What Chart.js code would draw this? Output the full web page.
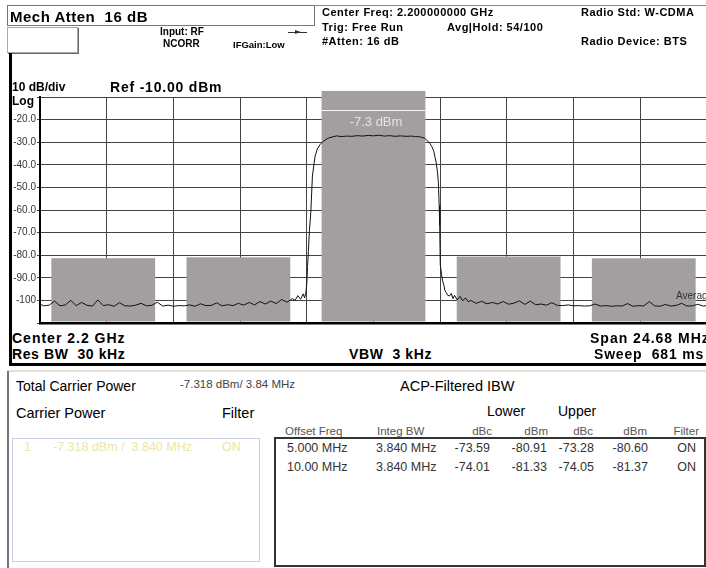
<!DOCTYPE html>
<html><head><meta charset="utf-8">
<script src="https://cdn.jsdelivr.net/npm/chart.js@4.4.1/dist/chart.umd.min.js"></script>
<style>
html,body{margin:0;padding:0;width:706px;height:568px;overflow:hidden;background:#fff;}
.t{position:absolute;white-space:pre;font-family:"Liberation Sans",Arial,sans-serif;color:#000;}
.bx{position:absolute;box-sizing:border-box;}
</style></head><body>
<div class="bx" style="left:7px;top:5px;width:699px;height:1px;background:#888"></div>
<div class="bx" style="left:7px;top:5px;width:308px;height:21px;border:1px solid #777"></div>
<div class="bx" style="left:7px;top:27px;width:71px;height:26px;border:1px solid #aaa;box-shadow:1px 1px 0 #666"></div>
<div class="bx" style="left:288px;top:32px;width:19px;height:1px;background:#333"></div>
<div class="bx" style="left:295px;top:30px;width:0;height:0;border-left:6px solid #333;border-top:2.5px solid transparent;border-bottom:2.5px solid transparent"></div>
<div class="bx" style="left:9px;top:53px;width:3px;height:313px;background:#000"></div>
<div class="bx" style="left:9px;top:363px;width:697px;height:3px;background:#000"></div>
<div class="bx" style="left:7px;top:370px;width:699px;height:2px;background:#e4e0d4"></div>
<div class="bx" style="left:7px;top:371px;width:2px;height:197px;background:#777"></div>
<div class="bx" style="left:12px;top:438px;width:248px;height:124px;border:1px solid #c5cfe0"></div>
<div class="bx" style="left:274px;top:437px;width:432px;height:130px;border:2px solid #333"></div>
<div id="cw" style="position:absolute;left:0;top:0;width:712px;height:330px;"><canvas id="c" width="712" height="330"></canvas></div>
<script>
// ---- data ----
const centerFreq = '2.200000000 GHz';
const carrierPowerDbm = -7.318;
const integBwMHz = 3.84;
const offsetFreqs = ['5.000 MHz', '10.00 MHz'];
const offsetMHz = [5, 10];
const integBWs = ['3.840 MHz', '3.840 MHz'];
const lowerDbc = ['-73.59', '-74.01'];
const lowerDbm = [-80.91, -81.33];
const upperDbc = ['-73.28', '-74.05'];
const upperDbm = [-80.60, -81.37];
const filters = ['ON', 'ON'];

const yGridValues = [-110, -100, -90, -80, -70, -60, -50, -40, -30, -20, -10];
const yTickValues = [-20, -30, -40, -50, -60, -70, -80, -90, -100];
const yTickLabels = ['-20.0', '-30.0', '-40.0', '-50.0', '-60.0', '-70.0', '-80.0', '-90.0', '-100'];
const xGridValues = [-12.34, -9.872, -7.404, -4.936, -2.468, 0, 2.468, 4.936, 7.404, 9.872, 12.34];

const traceFreqs = [
 -12.34,-12.2,-12.0,-11.8,-11.6,-11.4,-11.2,-11.0,-10.8,-10.6,-10.4,-10.2,-10.0,-9.8,-9.6,-9.4,-9.2,-9.0,-8.8,-8.6,
 -8.4,-8.2,-8.0,-7.8,-7.6,-7.4,-7.2,-7.0,-6.8,-6.6,-6.4,-6.2,-6.0,-5.8,-5.6,-5.4,-5.2,-5.0,-4.8,-4.6,
 -4.4,-4.2,-4.0,-3.8,-3.6,-3.4,-3.2,-3.0,-2.9,-2.8,-2.7,-2.6,-2.55,-2.5,-2.47,-2.44,-2.41,-2.37,-2.32,-2.26,
 -2.2,-2.16,-2.08,-1.98,-1.85,-1.67,-1.5,-1.36,-1.2,-1.0,-0.8,-0.6,-0.4,-0.2,0.0,0.2,0.4,0.6,0.8,1.0,
 1.2,1.4,1.55,1.71,1.89,2.08,2.16,2.23,2.32,2.37,2.40,2.43,2.45,2.47,2.52,2.56,2.60,2.64,2.69,2.75,
 2.82,2.88,2.94,3.0,3.1,3.2,3.3,3.4,3.5,3.6,3.8,4.0,4.2,4.4,4.6,4.8,5.0,5.2,5.4,5.6,
 5.8,6.0,6.2,6.4,6.6,6.8,7.0,7.2,7.4,7.6,7.8,8.0,8.2,8.4,8.6,8.8,9.0,9.2,9.4,9.6,
 9.8,10.0,10.2,10.4,10.6,10.8,11.0,11.2,11.4,11.6,11.8,12.0,12.2,12.34
];
const traceLevels = [
 -101.6,-102.4,-102.1,-100.3,-102.4,-102.0,-100.0,-102.3,-100.9,-102.2,-102.5,-99.8,-102.3,-101.9,-102.6,-101.0,-102.4,-102.5,-102.1,-101.3,
 -102.4,-102.2,-100.8,-102.5,-102.1,-102.6,-102.3,-102.4,-102.0,-102.6,-101.5,-102.3,-102.2,-101.1,-102.4,-101.9,-102.3,-101.3,-102.1,-100.9,
 -102.0,-100.5,-101.6,-100.3,-101.4,-99.6,-100.8,-99.2,-100.0,-97.9,-99.5,-97.1,-98.9,-96.4,-93.0,-85.0,-78.3,-69.0,-61.0,-45.0,
 -39.5,-36.2,-33.0,-31.1,-29.5,-28.2,-27.6,-27.2,-27.5,-27.3,-27.4,-27.1,-27.3,-27.0,-27.2,-26.9,-27.3,-27.1,-27.4,-27.2,
 -27.4,-27.3,-27.5,-27.6,-28.2,-30.4,-32.0,-34.0,-39.1,-43.5,-47.8,-58.0,-66.8,-84.2,-88.6,-91.5,-93.0,-95.5,-96.6,-97.8,
 -98.0,-96.9,-99.2,-97.8,-99.8,-98.2,-100.2,-98.9,-100.6,-100.0,-101.3,-100.4,-101.5,-100.9,-101.6,-100.5,-101.7,-101.2,-100.2,-101.8,
 -100.3,-101.9,-101.6,-102.1,-101.0,-102.2,-102.3,-102.0,-102.4,-102.3,-102.5,-102.4,-101.6,-102.5,-102.3,-102.6,-102.4,-102.5,-101.4,-102.6,
 -102.3,-102.5,-100.5,-102.4,-102.6,-101.8,-102.5,-102.2,-101.3,-102.5,-102.4,-101.7,-102.5,-102.3
];

const channelOffsets = [-offsetMHz[1], -offsetMHz[0], 0, offsetMHz[0], offsetMHz[1]];
const channelLevels = [lowerDbm[1], lowerDbm[0], carrierPowerDbm, upperDbm[0], upperDbm[1]];

// ---- text helper ----
function T(txt, x, cy, fs, o) {
  o = o || {};
  const d = document.createElement('div');
  d.className = 't';
  d.textContent = txt;
  d.style.fontSize = fs + 'px';
  d.style.lineHeight = fs + 'px';
  d.style.top = (cy - fs / 2) + 'px';
  if (o.r) d.style.right = (706 - x) + 'px'; else d.style.left = x + 'px';
  if (o.w) { d.style.width = o.w + 'px'; d.style.textAlign = 'center'; }
  if (o.b) d.style.fontWeight = 'bold';
  if (o.c) d.style.color = o.c;
  if (o.ls) d.style.letterSpacing = o.ls + 'px';
  document.body.appendChild(d);
}

// ---- chart ----
const boxPlugin = {
  id: 'acpBoxes',
  beforeDatasetsDraw(chart) {
    const { ctx, scales: { x, y } } = chart;
    ctx.save();
    ctx.fillStyle = '#a39fa0';
    const bottom = y.getPixelForValue(-110) - 1.5;
    let carrier = null;
    for (let i = 0; i < channelOffsets.length; i++) {
      const l = x.getPixelForValue(channelOffsets[i] - integBwMHz / 2);
      const r = x.getPixelForValue(channelOffsets[i] + integBwMHz / 2);
      const t = y.getPixelForValue(channelLevels[i]);
      ctx.fillRect(l, t, r - l, bottom - t);
      if (channelOffsets[i] === 0) carrier = { l, r, t };
    }
    if (carrier) {
      ctx.strokeStyle = '#f4f4f4';
      ctx.lineWidth = 1;
      ctx.beginPath();
      ctx.moveTo(carrier.l, Math.round(carrier.t + 19) + 0.5);
      ctx.lineTo(carrier.r, Math.round(carrier.t + 19) + 0.5);
      ctx.stroke();
    }
    ctx.restore();
  }
};

new Chart(document.getElementById('c'), {
  type: 'line',
  data: {
    datasets: [{
      data: traceFreqs.map((f, i) => ({ x: f, y: traceLevels[i] })),
      borderColor: '#111',
      borderWidth: 1,
      pointRadius: 0,
      tension: 0,
      fill: false
    }]
  },
  options: {
    responsive: false,
    animation: false,
    layout: { padding: { top: 97, bottom: 4, left: 0, right: 5 } },
    plugins: { legend: { display: false }, tooltip: { enabled: false } },
    scales: {
      x: {
        type: 'linear',
        min: -12.34, max: 12.34,
        afterBuildTicks: s => { s.ticks = xGridValues.map(v => ({ value: v })); },
        afterFit: s => { s.height = 0; },
        ticks: { display: false },
        grid: { color: '#444', lineWidth: 1, drawTicks: false },
        border: { color: '#000', width: 2.5 }
      },
      y: {
        min: -110, max: -10,
        afterBuildTicks: s => { s.ticks = yGridValues.map(v => ({ value: v })); },
        afterFit: s => { s.width = 40; },
        ticks: {
          padding: 1,
          color: '#333',
          font: { family: 'Liberation Sans', size: 10 },
          callback: v => { const i = yTickValues.indexOf(v); return i >= 0 ? yTickLabels[i] : ''; }
        },
        grid: { color: '#444', lineWidth: 1, tickLength: 3 },
        border: { color: '#000', width: 2 }
      }
    }
  },
  plugins: [boxPlugin]
});

// ---- texts ----
T('Mech Atten  16 dB', 10, 16.2, 15, { b: 1, ls: 0.5 });
T('Input: RF', 160, 32.3, 10, { b: 1 });
T('NCORR', 163, 44.2, 10, { b: 1 });
T('IFGain:Low', 233, 44.5, 9.5, { b: 1 });
T('Center Freq: ' + centerFreq, 322, 12.5, 11, { b: 1, ls: 0.5 });
T('Trig: Free Run', 322, 27.8, 11, { b: 1, ls: 0.5 });
T('#Atten: 16 dB', 322, 41, 11, { b: 1, ls: 0.5 });
T('Avg|Hold: 54/100', 447, 27.8, 11, { b: 1, ls: 0.5 });
T('Radio Std: W-CDMA', 581, 12.5, 11, { b: 1, ls: 0.5 });
T('Radio Device: BTS', 581, 41, 11, { b: 1, ls: 0.5 });

T('10 dB/div', 12, 86.7, 12, { b: 1 });
T('Ref -10.00 dBm', 110, 86.5, 14, { b: 1, ls: 0.8 });
T('Log', 12, 101, 12, { b: 1 });
T(carrierPowerDbm.toFixed(1) + ' dBm', 324.5, 121.5, 13, { w: 103, c: '#e2e2e2' });
T('Average', 676, 296, 10, { c: '#333' });
T('Center 2.2 GHz', 12, 337.5, 14, { b: 1, ls: 1 });
T('Res BW  30 kHz', 12, 354, 14, { b: 1, ls: 0.6 });
T('VBW  3 kHz', 349, 354, 14, { b: 1, ls: 0.6 });
T('Span 24.68 MHz', 590, 337.5, 14, { b: 1, ls: 1 });
T('Sweep  681 ms', 594, 354, 14, { b: 1, ls: 0.8 });

T('Total Carrier Power', 16, 385.5, 14);
T(carrierPowerDbm.toFixed(3) + ' dBm/ 3.84 MHz', 180, 384.5, 11.5, { c: '#444' });
T('ACP-Filtered IBW', 400, 386.7, 14.5);
T('Lower', 487, 410.5, 14);
T('Upper', 558, 410.5, 14);
T('Carrier Power', 16, 413.5, 14.5);
T('Filter', 222, 413.5, 14.5);
T('1', 24, 447.5, 12.5, { c: '#ece6a6' });
T(carrierPowerDbm.toFixed(3) + ' dBm /  ' + integBwMHz.toFixed(3) + ' MHz', 53, 447.5, 12.5, { c: '#ece6a6' });
T('ON', 222, 447.5, 12.5, { c: '#ece6a6' });

const hy = 432, hc = '#555', hf = 11.5;
T('Offset Freq', 285, hy, hf, { c: hc });
T('Integ BW', 377, hy, hf, { c: hc });
T('dBc', 492, hy, hf, { c: hc, r: 1 });
T('dBm', 548, hy, hf, { c: hc, r: 1 });
T('dBc', 593, hy, hf, { c: hc, r: 1 });
T('dBm', 647, hy, hf, { c: hc, r: 1 });
T('Filter', 699, hy, hf, { c: hc, r: 1 });

const rowY = [448, 467];
for (let i = 0; i < offsetFreqs.length; i++) {
  const c = '#333', f = 12.5, yy = rowY[i];
  T(offsetFreqs[i], 287, yy, f, { c });
  T(integBWs[i], 376, yy, f, { c });
  T(lowerDbc[i], 490, yy, f, { c, r: 1 });
  T(lowerDbm[i].toFixed(2), 547, yy, f, { c, r: 1 });
  T(upperDbc[i], 594, yy, f, { c, r: 1 });
  T(upperDbm[i].toFixed(2), 648, yy, f, { c, r: 1 });
  T(filters[i], 696, yy, f, { c, r: 1 });
}
</script>
</body></html>
